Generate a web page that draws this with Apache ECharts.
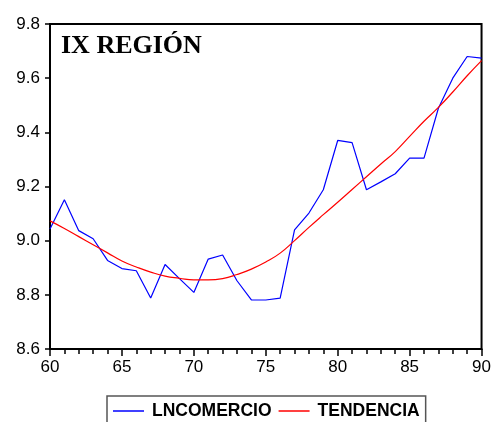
<!DOCTYPE html>
<html>
<head>
<meta charset="utf-8">
<script src="https://cdn.jsdelivr.net/npm/echarts@6/dist/echarts.min.js"></script>
<style>html,body{margin:0;padding:0;background:#fff;}#c{width:494px;height:422px;}</style>
</head>
<body>
<div id="c"></div>
<script>
const years = [60,61,62,63,64,65,66,67,68,69,70,71,72,73,74,75,76,77,78,79,80,81,82,83,84,85,86,87,88,89,90];
const lncomercio = [9.043,9.151,9.037,9.007,8.927,8.897,8.889,8.788,8.912,8.86,8.809,8.932,8.947,8.852,8.781,8.781,8.788,9.040,9.102,9.188,9.370,9.362,9.188,9.217,9.247,9.305,9.305,9.489,9.600,9.680,9.674];
const tendencia = [9.073,9.045,9.015,8.985,8.955,8.925,8.903,8.884,8.869,8.861,8.855,8.855,8.860,8.875,8.895,8.921,8.954,9.000,9.049,9.096,9.142,9.189,9.236,9.283,9.329,9.385,9.441,9.492,9.549,9.609,9.665];
const yTicks = [8.6, 8.8, 9.0, 9.2, 9.4, 9.6, 9.8];
const xTicks = [60, 65, 70, 75, 80, 85, 90];
const titleText = 'IX REGIÓN';

const chart = echarts.init(document.getElementById('c'), null, {renderer: 'canvas'});
chart.setOption({
  animation: false,
  backgroundColor: '#fff',
  title: {
    text: titleText, left: 61, top: 33, padding: 0,
    textStyle: {fontFamily: 'Liberation Serif', fontWeight: 'bold', fontSize: 26, color: '#000'}
  },
  grid: {left: 50, right: 12, top: 24, bottom: 73, show: true, borderColor: '#000', borderWidth: 2, backgroundColor: '#fff'},
  legend: {
    left: 107, top: 396,
    padding: [6, 6, 20, 6],
    borderColor: '#555', borderWidth: 1.5,
    icon: 'rect',
    itemWidth: 31, itemHeight: 1.5, itemGap: 7,
    textStyle: {fontFamily: 'Liberation Sans', fontWeight: 'bold', fontSize: 17.5, color: '#000', padding: [0, 0, 0, 3]},
    data: ['LNCOMERCIO', 'TENDENCIA']
  },
  xAxis: {
    type: 'value', min: xTicks[0], max: xTicks[xTicks.length-1], interval: 5,
    axisLine: {lineStyle: {color: '#000', width: 2}},
    axisTick: {show: true, length: 7, lineStyle: {color: '#000', width: 1.5}},
    minorTick: {show: true, splitNumber: 5, length: 5, lineStyle: {color: '#000', width: 1.5}},
    splitLine: {show: false},
    axisLabel: {margin: 10, fontFamily: 'Liberation Sans', fontSize: 17, color: '#000'}
  },
  yAxis: {
    type: 'value', min: yTicks[0], max: yTicks[yTicks.length-1], interval: 0.2,
    axisLine: {show: true, lineStyle: {color: '#000', width: 2}},
    axisTick: {show: true, length: 5, lineStyle: {color: '#000', width: 1.5}},
    splitLine: {show: false},
    axisLabel: {margin: 10, fontFamily: 'Liberation Sans', fontSize: 17, color: '#000', formatter: v => v.toFixed(1)}
  },
  series: [
    {name: 'LNCOMERCIO', type: 'line', symbol: 'none', color: '#0000ff',
     lineStyle: {color: '#0000ff', width: 1.2}, data: years.map((y, i) => [y, lncomercio[i]])},
    {name: 'TENDENCIA', type: 'line', symbol: 'none', color: '#ff0000', smooth: true,
     lineStyle: {color: '#ff0000', width: 1.2}, data: years.map((y, i) => [y, tendencia[i]])}
  ]
});
</script>
</body>
</html>
